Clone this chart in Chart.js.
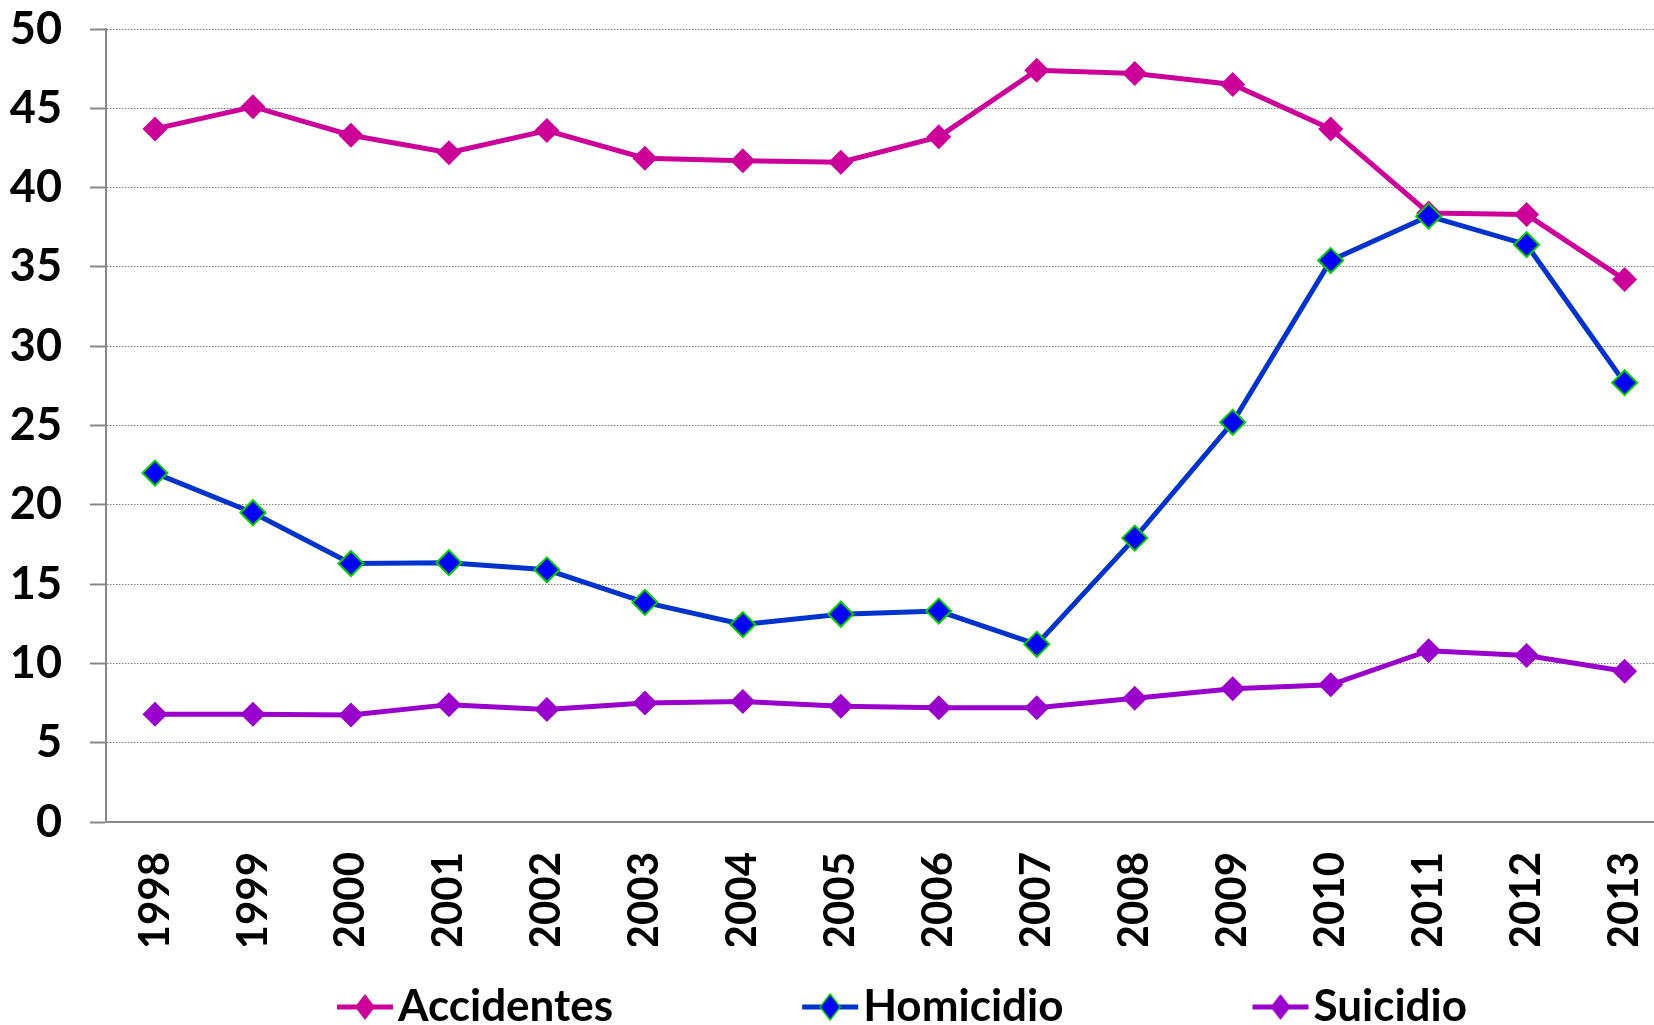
<!DOCTYPE html>
<html><head><meta charset="utf-8">
<script src="https://cdn.jsdelivr.net/npm/chart.js@4"></script>
<style>html,body{margin:0;padding:0;background:#fff;overflow:hidden}#wrap{width:1654px;height:1025px;position:relative}</style>
</head><body><div id="wrap"><canvas id="c"></canvas></div>
<script>
const years = [1998,1999,2000,2001,2002,2003,2004,2005,2006,2007,2008,2009,2010,2011,2012,2013];
const accidentes = [43.7,45.1,43.3,42.2,43.6,41.85,41.7,41.6,43.2,47.4,47.2,46.5,43.7,38.4,38.3,34.2];
const homicidio = [22.0,19.5,16.3,16.35,15.9,13.85,12.45,13.1,13.3,11.2,17.9,25.2,35.4,38.2,36.4,27.7];
const suicidio = [6.8,6.8,6.75,7.4,7.1,7.5,7.6,7.3,7.2,7.2,7.8,8.4,8.65,10.8,10.5,9.5];
const seriesNames = ['Accidentes','Homicidio','Suicidio'];

const FONT = 'Lato';
const LEG_FS = 44, LEG_PAD = 39, LEG_BW = 250 - LEG_PAD - LEG_FS/2;

function makeIcon(lineColor, fill, stroke, strokeW){
  const W = LEG_BW + LEG_FS, H = 32;
  const c = document.createElement('canvas'); c.width = W; c.height = H;
  const g = c.getContext('2d');
  g.strokeStyle = lineColor; g.lineWidth = 5;
  g.beginPath(); g.moveTo(W-61, H/2); g.lineTo(W-5, H/2); g.stroke();
  const cx = W-33, cy = H/2;
  g.beginPath(); g.moveTo(cx-10, cy); g.lineTo(cx, cy-13); g.lineTo(cx+10, cy); g.lineTo(cx, cy+13); g.closePath();
  g.fillStyle = fill; g.fill();
  if (strokeW) { g.strokeStyle = stroke; g.lineWidth = strokeW; g.stroke(); }
  return c;
}
const icons = [
  makeIcon('#CC0099','#CC0099',null,0),
  makeIcon('#0033CC','#0000FF','#00CC00',1.5),
  makeIcon('#9900CC','#9900CC',null,0)
];

const toXY = arr => arr.map((v,i)=>({x: years[i], y: v}));

new Chart(document.getElementById('c'), {
  type: 'line',
  data: {
    datasets: [
      {label: seriesNames[0], data: toXY(accidentes), borderColor:'#CC0099', backgroundColor:'#CC0099',
       pointBackgroundColor:'#CC0099', pointBorderColor:'#CC0099', pointBorderWidth:0, pointStyle:'rectRot', pointRadius:12.5, borderWidth:5, order:3, clip:false},
      {label: seriesNames[1], data: toXY(homicidio), borderColor:'#0033CC', backgroundColor:'#0000FF',
       pointBackgroundColor:'#0000FF', pointBorderColor:'#00CC00', pointBorderWidth:2, pointStyle:'rectRot', pointRadius:12.5, borderWidth:5, order:2, clip:false},
      {label: seriesNames[2], data: toXY(suicidio), borderColor:'#9900CC', backgroundColor:'#9900CC',
       pointBackgroundColor:'#9900CC', pointBorderColor:'#9900CC', pointBorderWidth:0, pointStyle:'rectRot', pointRadius:12.5, borderWidth:5, order:1, clip:false}
    ]
  },
  options: {
    responsive: true, maintainAspectRatio: false, animation: false, events: [],
    layout: {autoPadding: false, padding: {top: 29, left: 0, right: 0, bottom: -14}},
    elements: {line: {tension: 0}},
    plugins: {
      tooltip: {enabled: false},
      legend: {
        position: 'bottom', align: 'center',
        labels: {
          usePointStyle: true, pointStyleWidth: LEG_BW, padding: LEG_PAD, color: '#000',
          font: {family: FONT, weight: 'bold', size: LEG_FS},
          generateLabels: (chart) => chart.data.datasets.map((ds, i) => ({
            text: ds.label, pointStyle: icons[i], fillStyle: 'rgba(0,0,0,0)', strokeStyle: 'rgba(0,0,0,0)',
            lineWidth: 0, hidden: false, datasetIndex: i, fontColor: '#000'
          }))
        }
      }
    },
    scales: {
      x: {
        type: 'linear', min: years[0] - 0.5, max: years[years.length-1] + 0.3,
        afterBuildTicks: s => { s.ticks = years.map(v => ({value: v})); },
        afterFit: s => { s.height = 124; s.paddingLeft = 0; s.paddingRight = 0; },
        grid: {display: false, drawTicks: false, tickLength: 0},
        border: {display: true, color: '#888', width: 2},
        ticks: {autoSkip: false, maxRotation: 90, minRotation: 90, padding: 30, color: '#000',
          font: {family: FONT, weight: 'bold', size: 42}, callback: v => String(v)}
      },
      y: {
        min: 0, max: 50,
        afterFit: s => { s.width = 106; s.paddingTop = 0; s.paddingBottom = 0; },
        grid: {color: '#808080', lineWidth: 1, tickColor: '#888', tickWidth: 2, tickLength: 16, tickBorderDash: []},
        border: {display: true, color: '#888', width: 2, dash: [1.5, 1.5]},
        ticks: {stepSize: 5, padding: 28, color: '#000', font: {family: FONT, weight: 'bold', size: 45}}
      }
    }
  }
});
</script></body></html>
